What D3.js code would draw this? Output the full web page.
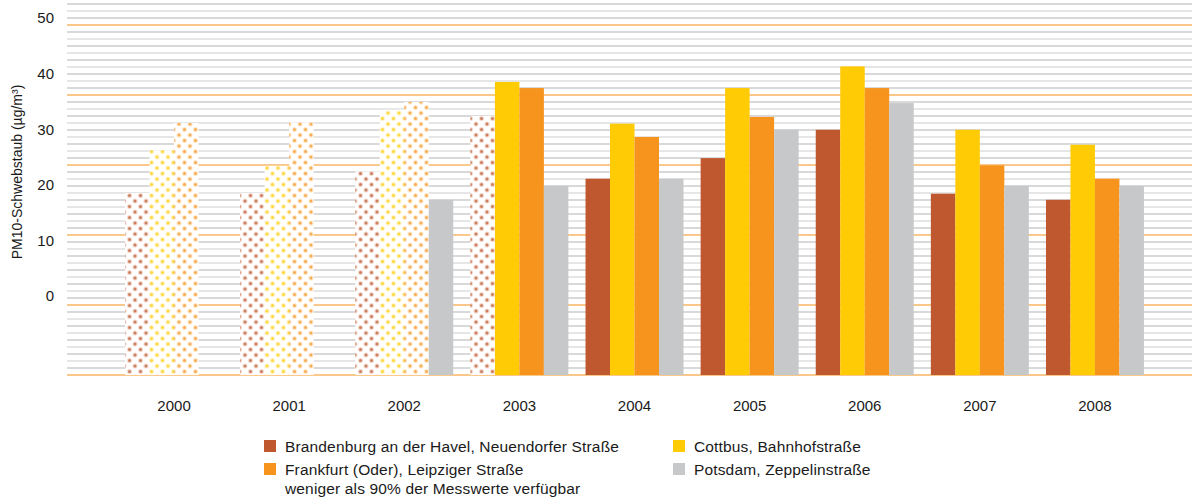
<!DOCTYPE html>
<html lang="de">
<head>
<meta charset="utf-8">
<title>PM10-Schwebstaub</title>
<script src="https://cdn.jsdelivr.net/npm/d3@7"></script>
<style>
  body { margin: 0; background: #fff; font-family: "Liberation Sans", Arial, sans-serif; }
  svg text { fill: #1a1a1a; }
  .legtext { font-size: 15.5px; letter-spacing: 0.15px; }
</style>
</head>
<body>
<div id="chart"></div>
<script>
// jahre und stationen
var years = ['2000', '2001', '2002', '2003', '2004', '2005', '2006', '2007', '2008'];
var stations = ['Brandenburg', 'Cottbus', 'Frankfurt', 'Potsdam'];
var legendLabels = [
  'Brandenburg an der Havel, Neuendorfer Straße',
  'Cottbus, Bahnhofstraße',
  'Frankfurt (Oder), Leipziger Straße',
  'Potsdam, Zeppelinstraße'
];
var noteLabel = 'weniger als 90% der Messwerte verfügbar';
var yTicks = [0, 10, 20, 30, 40, 50];

// Jahresmittel PM10 (µg/m³), null = keine Messung
var brandenburg = [18.5, 18.5, 22.4, 32.4, 21.1, 24.8, 29.9, 18.4, 17.3];
var cottbus     = [26.2, 23.4, 33.5, 38.5, 31.0, 37.4, 41.3, 29.9, 27.2];
var frankfurt   = [31.1, 31.2, 34.9, 37.4, 28.6, 32.2, 37.4, 23.5, 21.1];
var potsdam     = [null, null, 17.3, 19.8, 21.1, 29.9, 34.7, 19.8, 19.8];

// true = weniger als 90% der Messwerte
var brandenburgLow = [true, true, true, true, false, false, false, false, false];
var cottbusLow     = [true, true, true, false, false, false, false, false, false];
var frankfurtLow   = [true, true, true, false, false, false, false, false, false];
var potsdamLow     = [false, false, false, false, false, false, false, false, false];

var colors = ['#c0582f', '#ffcb05', '#f7941e', '#c7c8ca'];

var seriesValues = [brandenburg, cottbus, frankfurt, potsdam];
var seriesLow = [brandenburgLow, cottbusLow, frankfurtLow, potsdamLow];

var rows = [];
years.forEach(function(yr, i) {
  stations.forEach(function(st, j) {
    if (seriesValues[j][i] != null) {
      rows.push({year: yr, station: st, value: seriesValues[j][i], low: seriesLow[j][i], idx: j});
    }
  });
});

var width = 1192, height = 502;
var plotBottom = 375;

var svg = d3.select('#chart').append('svg')
  .attr('width', width)
  .attr('height', height);

// muster fuer unvollstaendige werte
var defs = svg.append('defs');
colors.forEach(function(c, j) {
  var p = defs.append('pattern')
    .attr('id', 'dots' + j)
    .attr('patternUnits', 'userSpaceOnUse')
    .attr('width', 11)
    .attr('height', 11);
  p.append('rect').attr('width', 11).attr('height', 11).attr('fill', '#fff');
  [[3, 3], [8.5, 8.5]].forEach(function(pt) {
    p.append('circle').attr('cx', pt[0]).attr('cy', pt[1]).attr('r', 2.6)
      .attr('fill', c).attr('opacity', 0.22);
    p.append('circle').attr('cx', pt[0]).attr('cy', pt[1]).attr('r', 1.5)
      .attr('fill', c).attr('opacity', 0.7);
  });
});

var y = d3.scaleLinear().domain([0, 50]).range([296, 18]);

var x0 = d3.scaleBand().domain(years)
  .range([116.5, 1152.5])
  .paddingInner(0.149)
  .paddingOuter(0.0745);
var x1 = d3.scaleBand().domain(stations).range([0, x0.bandwidth()]);

// hintergrundlinien
var gridY = d3.scaleLinear().domain([0, 53]).range([plotBottom, 4]);
svg.append('g').selectAll('line')
  .data(d3.range(54))
  .enter().append('line')
  .attr('x1', 67).attr('x2', width)
  .attr('y1', function(d) { return gridY(d); })
  .attr('y2', function(d) { return gridY(d); })
  .attr('stroke', function(d) { return d % 10 === 0 ? '#f9c88a' : (d % 2 ? '#cdcdcd' : '#dedede'); })
  .attr('stroke-width', function(d) { return d % 10 === 0 ? 2 : 1.6; });

// balken
svg.append('g').selectAll('rect')
  .data(rows)
  .enter().append('rect')
  .attr('x', function(d) { return x0(d.year) + x1(d.station); })
  .attr('width', x1.bandwidth())
  .attr('y', function(d) { return y(d.value); })
  .attr('height', function(d) { return plotBottom - y(d.value); })
  .attr('fill', function(d) { return d.low ? 'url(#dots' + d.idx + ')' : colors[d.idx]; });

// y-achse
var yAxis = svg.append('g')
  .attr('transform', 'translate(58,0)')
  .call(d3.axisLeft(y).tickValues(yTicks).tickSize(0).tickPadding(4));
yAxis.select('.domain').remove();
yAxis.selectAll('text')
  .style('font-size', '15px')
  .style('font-family', '"Liberation Sans", Arial, sans-serif')
  .attr('fill', '#1a1a1a');

svg.append('text')
  .attr('transform', 'translate(22,172) rotate(-90)')
  .attr('text-anchor', 'middle')
  .style('font-size', '14px')
  .text('PM10-Schwebstaub (µg/m³)');

// x-achse
var xAxis = svg.append('g')
  .attr('transform', 'translate(0,' + plotBottom + ')')
  .call(d3.axisBottom(x0).tickSize(0).tickPadding(25));
xAxis.select('.domain').remove();
xAxis.selectAll('text')
  .style('font-size', '15px')
  .style('font-family', '"Liberation Sans", Arial, sans-serif')
  .attr('fill', '#1a1a1a');

// legende
var legendPos = [[264, 440], [673, 440], [264, 463], [673, 463]];
var legendOrder = [0, 1, 2, 3];
var leg = svg.append('g').selectAll('g')
  .data(legendOrder)
  .enter().append('g')
  .attr('transform', function(d, i) { return 'translate(' + legendPos[i][0] + ',' + legendPos[i][1] + ')'; });
leg.append('rect')
  .attr('width', 12).attr('height', 12)
  .attr('fill', function(d) { return colors[d]; });
leg.append('text')
  .attr('class', 'legtext')
  .attr('x', 21).attr('y', 11.5)
  .text(function(d) { return legendLabels[d]; });

svg.append('text')
  .attr('class', 'legtext')
  .attr('x', 285).attr('y', 494)
  .text(noteLabel);
</script>
</body>
</html>
